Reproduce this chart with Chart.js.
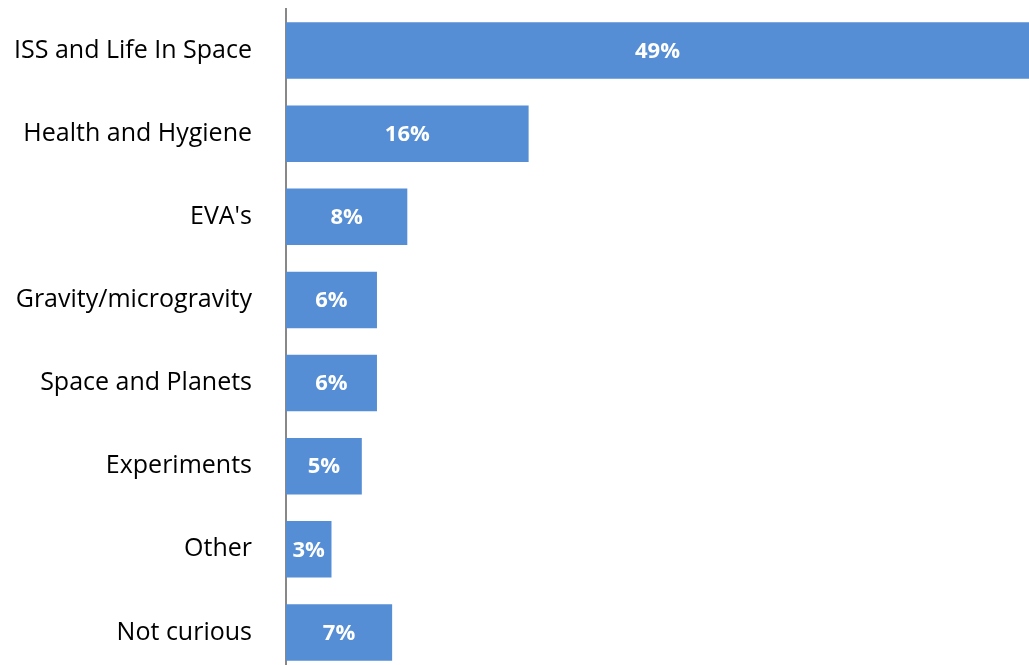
<!DOCTYPE html>
<html>
<head>
<meta charset="utf-8">
<script src="https://cdn.jsdelivr.net/npm/chart.js@4/dist/chart.umd.min.js"></script>
<style>
    html, body { margin: 0; padding: 0; background: #fff; overflow: hidden; }
    #wrap { position: relative; width: 1029px; height: 674px; }
</style>
</head>
<body>
<div id="wrap"><canvas id="curiosityChart"></canvas></div>
<script>
var categories = [
    'ISS and Life In Space',
    'Health and Hygiene',
    "EVA's",
    'Gravity/microgravity',
    'Space and Planets',
    'Experiments',
    'Other',
    'Not curious'
];
var shares = [49, 16, 8, 6, 6, 5, 3, 7];

// white % labels centred in each bar
var barLabels = {
    id: 'barLabels',
    afterDatasetsDraw: function(chart) {
        var ctx = chart.ctx;
        var meta = chart.getDatasetMeta(0);
        ctx.save();
        ctx.fillStyle = '#ffffff';
        ctx.font = 'bold 22px "Open Sans"';
        ctx.textAlign = 'center';
        ctx.textBaseline = 'middle';
        meta.data.forEach(function(bar, i) {
            var mid = (bar.x + bar.base) / 2;
            ctx.fillText(shares[i] + '%', mid, bar.y + 1);
        });
        ctx.restore();
    }
};

var ctx = document.getElementById('curiosityChart').getContext('2d');
new Chart(ctx, {
    type: 'bar',
    data: {
        labels: categories,
        datasets: [{
            data: shares,
            backgroundColor: '#558ed5',
            borderWidth: 0,
            categoryPercentage: 0.68,
            barPercentage: 1
        }]
    },
    options: {
        indexAxis: 'y',
        responsive: true,
        maintainAspectRatio: false,
        animation: false,
        layout: { padding: { top: 9, right: 0, bottom: 0, left: 0 } },
        plugins: {
            legend: { display: false },
            tooltip: { enabled: false }
        },
        scales: {
            x: {
                display: false,
                min: 0,
                max: 49
            },
            y: {
                afterFit: function(scale) {
                    scale.width = 286;
                    scale.paddingTop = 0;
                    scale.paddingBottom = 0;
                },
                grid: { display: false, drawTicks: true, tickLength: 34 },
                border: { display: true, color: '#888888', width: 2 },
                ticks: {
                    color: '#000000',
                    padding: 0,
                    font: { family: '"Open Sans"', size: 25 }
                }
            }
        }
    },
    plugins: [barLabels]
});
</script>
</body>
</html>
